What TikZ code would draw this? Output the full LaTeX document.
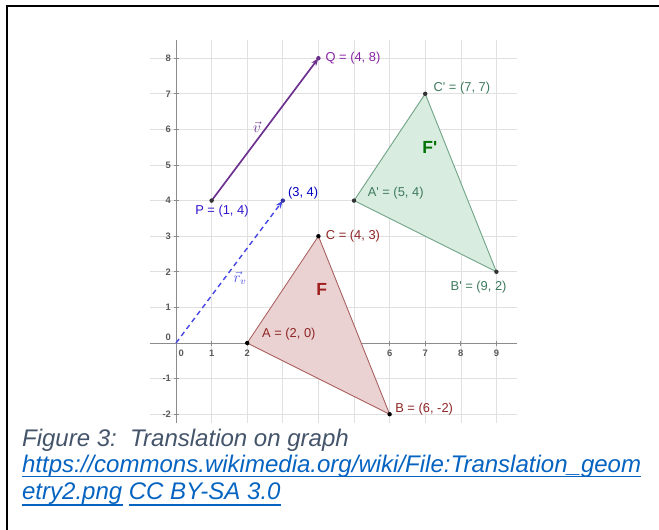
\documentclass[tikz,border=0pt]{standalone}
\usepackage{fontspec}
\setmainfont{Liberation Sans}
\usepackage{amsmath}
\usetikzlibrary{arrows.meta, positioning}
\definecolor{gridgray}{HTML}{E0E0E0}
\definecolor{axisgray}{HTML}{8C8C8C}
\definecolor{vecpurple}{HTML}{6A2E8E}
\definecolor{vecblue}{HTML}{4848E6}
\definecolor{redline}{HTML}{A85E5E}
\definecolor{redfill}{HTML}{EBD2D2}
\definecolor{redtext}{HTML}{8E2424}
\definecolor{greenline}{HTML}{6FA487}
\definecolor{greenfill}{HTML}{D8ECDF}
\definecolor{greentext}{HTML}{3D7A5C}
\definecolor{captext}{HTML}{44546A}
\definecolor{linkblue}{HTML}{0563C1}
\newcommand{\prm}{\textquotesingle}

\begin{document}
\begin{tikzpicture}[
    x=1cm, y=1cm,
    frame/.style={line width=1.6pt, black},
    gridline/.style={gridgray, line width=0.5pt},
    axis/.style={axisgray, line width=0.7pt},
    ticklabel/.style={font=\fontsize{7.5}{8}\selectfont\bfseries, text=black!65, inner sep=1pt},
    ptlabel/.style={font=\fontsize{10.3}{12}\selectfont, inner sep=1pt},
    veclabel/.style={font=\fontsize{12}{12}\selectfont, inner sep=1pt},
    dot/.style={circle, fill=#1, inner sep=1.25pt},
    vecline/.style={line width=1.3pt, vecpurple, -{Stealth[length=2.2mm, width=1.6mm]}},
    dashvec/.style={line width=1.1pt, vecblue, dash pattern=on 4pt off 3pt,
      -{Stealth[length=2.2mm, width=1.6mm]}},
    shapeF/.style={draw=redline, fill=redfill, line width=0.7pt},
    shapeFp/.style={draw=greenline, fill=greenfill, line width=0.7pt},
    caption/.style={font=\fontsize{19.2}{20}\selectfont\itshape, anchor=base west, inner sep=0pt},
    linkline/.style={linkblue, line width=1.1pt},
  ]
    \useasboundingbox (-4.944,-5.225) rectangle (13.567,9.635);
    % frame of the cell
    \draw[frame] (-4.747,-5.4) -- (-4.747,9.466) -- (13.7,9.466);
    % grid
    \foreach \i in {0,...,9} \draw[gridline] (\i,-2.25) -- (\i,8.5);
    \foreach \j in {-2,...,8} \draw[gridline] (-0.73,\j) -- (9.58,\j);
    % axes
    \draw[axis] (-0.73,0) -- (9.58,0);
    \draw[axis] (0,-2.25) -- (0,8.5);
    \foreach \i in {1,...,9} {
      \draw[axis] (\i,-0.07) -- (\i,0.07);
      \node[ticklabel] (xl\i) at (\i,-0.3) {\i};
    }
    \foreach \j in {-2,-1,1,2,...,8} {
      \draw[axis] (-0.07,\j) -- (0.07,\j);
      \node[ticklabel, anchor=east] (yl\j) at (-0.1,\j) {\j};
    }
    \node[ticklabel] (xl0) at (0.15,-0.3) {0};
    \node[ticklabel, anchor=east] (yl0) at (-0.1,0.17) {0};
    % vertices
    \coordinate (O) at (0,0);
    \coordinate (P) at (1,4);
    \coordinate (Q) at (4,8);
    \coordinate (T) at (3,4);
    \coordinate (A) at (2,0);
    \coordinate (B) at (6,-2);
    \coordinate (C) at (4,3);
    \coordinate (A') at (5,4);
    \coordinate (B') at (9,2);
    \coordinate (C') at (7,7);
    % triangles
    \filldraw[shapeF] (A) -- (B) -- (C) -- cycle;
    \filldraw[shapeFp] (A') -- (B') -- (C') -- cycle;
    \node[font=\fontsize{14}{14}\selectfont\bfseries, text=redtext!85!red] (F) at (4.09,1.49) {F};
    \node[font=\fontsize{14}{14}\selectfont\bfseries, text=green!45!black] (Fp) at (7.13,5.48) {F\prm};
    % vectors
    \draw[vecline] (P) -- (Q);
    \draw[dashvec] (O) -- (T);
    \node[veclabel, text=vecpurple] (vlab) at (2.27,6.07) {$\vec{v}$};
    \node[veclabel, text=vecblue] (rlab) at (1.8,1.83) {$\vec{r}_{v}$};
    % points
    \node[dot=black!80] (Pd) at (P) {};
    \node[dot=vecpurple] (Qd) at (Q) {};
    \node[dot=vecblue!70!black] (Td) at (T) {};
    \node[dot=black] (Ad) at (A) {};
    \node[dot=black] (Bd) at (B) {};
    \node[dot=black] (Cd) at (C) {};
    \node[dot=black!80] (A'd) at (A') {};
    \node[dot=black!80] (B'd) at (B') {};
    \node[dot=black!80] (C'd) at (C') {};
    % point labels
    \node[ptlabel, text=vecpurple!80!magenta] (Ql) at (4.97,8.0) {Q = (4, 8)};
    \node[ptlabel, text=blue!55!vecpurple] (Pl) at (1.29,3.71) {P = (1, 4)};
    \node[ptlabel, text=blue!75!black] (Tl) at (3.57,4.21) {(3, 4)};
    \node[ptlabel, text=redtext] (Cl) at (4.97,3.0) {C = (4, 3)};
    \node[ptlabel, text=redtext] (Al) at (3.17,0.25) {A = (2, 0)};
    \node[ptlabel, text=redtext] (Bl) at (6.97,-1.85) {B = (6, -2)};
    \node[ptlabel, text=greentext] (A'l) at (6.17,4.21) {A\prm{} = (5, 4)};
    \node[ptlabel, text=greentext] (B'l) at (8.5,1.57) {B\prm{} = (9, 2)};
    \node[ptlabel, text=greentext] (C'l) at (8.03,7.16) {C\prm{} = (7, 7)};
    % caption
    \node[caption, text=captext] (cap1) at (-4.33,-2.893) {Figure 3:\ \ Translation on graph};
    \node[caption, text=linkblue] (cap2) at (-4.33,-3.624) {https://commons.wikimedia.org/wiki/File:Translation\_geom};
    \node[caption, text=linkblue] (cap3) at (-4.33,-4.382) {etry2.png};
    \node[caption, text=linkblue, right=0.17 of cap3.base east, anchor=base west] (cap4) {CC BY-SA 3.0};
    \draw[linkline] ([yshift=-0.13cm]cap2.base west) -- ([yshift=-0.13cm]cap2.base east);
    \draw[linkline] ([yshift=-0.17cm]cap3.base west) -- ([yshift=-0.17cm]cap3.base east);
    \draw[linkline] ([yshift=-0.17cm]cap4.base west) -- ([yshift=-0.17cm]cap4.base east);
\end{tikzpicture}
\end{document}
